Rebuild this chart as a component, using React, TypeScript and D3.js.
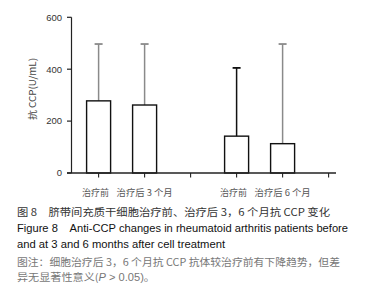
import React from "react";
import * as d3 from "d3";

const categories = ["治疗前", "治疗后 3 个月", "", "治疗前", "治疗后 6 个月", ""];
const barKeys = ["b0", "b1", "b2", "b3", "b4", "b5"];
const means = [278, 262, null, 142, 113, null];
const errTops = [497, 497, null, 405, 497, null];
const whiskerColors = ["#8a8a8a", "#8a8a8a", null, "#111", "#8a8a8a", null];
const yTicks = [0, 200, 400, 600];
const yLabel = "抗 CCP(U/mL)";
const captionLines = [
  "图 8　脐带间充质干细胞治疗前、治疗后 3，6 个月抗 CCP 变化",
  "Figure 8    Anti-CCP changes in rheumatoid arthritis patients before",
  "and at 3 and 6 months after cell treatment",
];
const noteLine1 = "图注：细胞治疗后 3，6 个月抗 CCP 抗体较治疗前有下降趋势，但差";
const noteLine2a = "异无显著性意义(";
const noteLine2b = "P";
const noteLine2c = " > 0.05)。";

export default function App() {
  const x = d3.scaleBand<string>().domain(barKeys).range([75.6, 351.6]).padding(0);
  const y = d3.scaleLinear().domain([0, 600]).range([173, 17.3]);
  const axisX = 71.5;
  const barW = 24;
  const cx = (i: number) => (x(barKeys[i]) as number) + x.bandwidth() / 2;
  const cjk = "'Noto Sans CJK SC', 'Noto Sans', sans-serif";
  const latin = "'Liberation Sans', Arial, 'Noto Sans CJK SC', sans-serif";

  return (
    <svg
      width={374}
      height={300}
      style={{ position: "absolute", left: 0, top: 0, background: "#fff" }}
    >
      <rect x={0} y={0} width={374} height={300} fill="#fff" />
      {/* bars */}
      {means.map((m, i) =>
        m == null ? null : (
          <g key={i}>
            <line
              x1={cx(i)}
              x2={cx(i)}
              y1={y(m)}
              y2={y(errTops[i] as number)}
              stroke={whiskerColors[i] as string}
              strokeWidth={1.5}
            />
            <line
              x1={cx(i) - 4}
              x2={cx(i) + 4}
              y1={y(errTops[i] as number)}
              y2={y(errTops[i] as number)}
              stroke={whiskerColors[i] as string}
              strokeWidth={1.8}
            />
            <rect
              x={cx(i) - barW / 2}
              y={y(m)}
              width={barW}
              height={y(0) - y(m)}
              fill="none"
              stroke="#111"
              strokeWidth={1.4}
            />
          </g>
        )
      )}
      {/* y axis */}
      <line x1={axisX} x2={axisX} y1={y(600)} y2={y(0)} stroke="#222" strokeWidth={1.2} />
      {yTicks.map((t) => (
        <g key={t}>
          <line x1={axisX - 4.5} x2={axisX} y1={y(t)} y2={y(t)} stroke="#222" strokeWidth={1.2} />
          <text
            x={62}
            y={y(t)}
            dy="0.35em"
            textAnchor="end"
            fontFamily={latin}
            fontSize={9.5}
            fill="#333"
          >
            {t}
          </text>
        </g>
      ))}
      <text
        transform={`translate(33,89) rotate(-90)`}
        textAnchor="middle"
        dy="0.35em"
        fontFamily={cjk}
        fontSize={9.5}
        fill="#444"
        textLength={62}
        lengthAdjust="spacingAndGlyphs"
      >
        {yLabel}
      </text>
      {/* x axis */}
      <line x1={67} x2={336} y1={y(0)} y2={y(0)} stroke="#222" strokeWidth={1.3} />
      {barKeys.map((k, i) => (
        <line key={k} x1={cx(i)} x2={cx(i)} y1={y(0)} y2={y(0) + 4.5} stroke="#222" strokeWidth={1.1} />
      ))}
      {categories.map((c, i) =>
        c ? (
          <text
            key={i}
            x={cx(i) - (i === 0 || i === 3 ? 3 : 0)}
            y={195.5}
            textAnchor="middle"
            fontFamily={cjk}
            fontSize={9}
            fill="#555"
            textLength={c.length > 3 ? 56 : 27}
            lengthAdjust="spacingAndGlyphs"
          >
            {c}
          </text>
        ) : null
      )}
      {/* captions */}
      <text x={17} y={215.5} fontFamily={cjk} fontSize={10} fill="#333" textLength={313} lengthAdjust="spacingAndGlyphs">
        {captionLines[0]}
      </text>
      <text x={17} y={232} fontFamily={latin} fontSize={10} fill="#111" textLength={331} lengthAdjust="spacingAndGlyphs" style={{ whiteSpace: "pre" }}>
        {captionLines[1]}
      </text>
      <text x={17} y={248} fontFamily={latin} fontSize={10} fill="#111" textLength={208} lengthAdjust="spacingAndGlyphs">
        {captionLines[2]}
      </text>
      <text x={17} y={265.5} fontFamily={cjk} fontSize={10} fill="#777" textLength={323} lengthAdjust="spacingAndGlyphs">
        {noteLine1}
      </text>
      <text x={17} y={281} fontFamily={cjk} fontSize={10} fill="#777" textLength={138} lengthAdjust="spacingAndGlyphs">
        {noteLine2a}
        <tspan fontStyle="italic" fontFamily={latin}>{noteLine2b}</tspan>
        <tspan fontFamily={latin}>{noteLine2c}</tspan>
      </text>
    </svg>
  );
}
